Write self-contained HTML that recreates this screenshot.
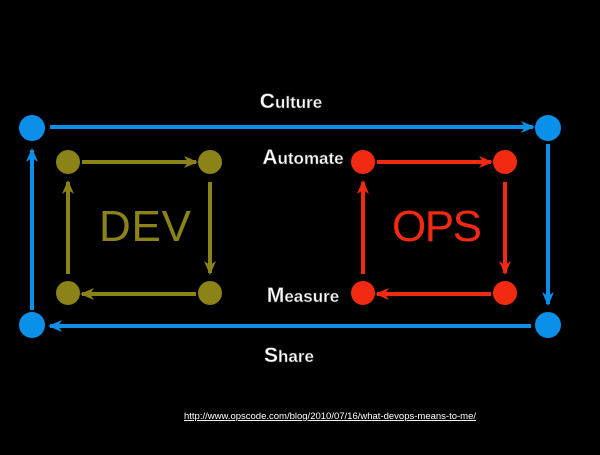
<!DOCTYPE html>
<html><head><style>
body{margin:0;background:#000;width:600px;height:450px;overflow:hidden}
</style></head><body>
<svg width="600" height="450" viewBox="0 0 600 450" xmlns="http://www.w3.org/2000/svg">
<defs>
<marker id="b" markerWidth="14" markerHeight="12" refX="12" refY="6" orient="auto" markerUnits="userSpaceOnUse"><path d="M0,0 L14,6 L0,12 L4,6z" fill="#0a90e8"/></marker>
<marker id="o" markerWidth="14" markerHeight="12" refX="12" refY="6" orient="auto" markerUnits="userSpaceOnUse"><path d="M0,0 L14,6 L0,12 L4,6z" fill="#8b8218"/></marker>
<marker id="r" markerWidth="14" markerHeight="12" refX="12" refY="6" orient="auto" markerUnits="userSpaceOnUse"><path d="M0,0 L14,6 L0,12 L4,6z" fill="#f32a12"/></marker>
</defs>
<g stroke="#0a90e8" stroke-width="4" marker-end="url(#b)">
<line x1="50" y1="127" x2="533" y2="127"/>
<line x1="548" y1="144" x2="548" y2="304"/>
<line x1="531" y1="326" x2="50" y2="326"/>
<line x1="32" y1="310" x2="32" y2="150"/>
</g>
<g fill="#0a90e8"><circle cx="32" cy="128" r="13"/><circle cx="548" cy="128" r="13"/><circle cx="548" cy="325" r="13"/><circle cx="32" cy="325" r="13"/></g>
<g stroke="#8b8218" stroke-width="4" marker-end="url(#o)">
<line x1="82" y1="162" x2="196" y2="162"/>
<line x1="210" y1="182" x2="210" y2="273"/>
<line x1="196" y1="294" x2="82" y2="294"/>
<line x1="68" y1="274" x2="68" y2="182"/>
</g>
<g fill="#8b8218"><circle cx="68" cy="162" r="12"/><circle cx="210" cy="162" r="12"/><circle cx="210" cy="293" r="12"/><circle cx="68" cy="293" r="12"/></g>
<g stroke="#f32a12" stroke-width="4" marker-end="url(#r)">
<line x1="377" y1="162" x2="491" y2="162"/>
<line x1="505" y1="182" x2="505" y2="273"/>
<line x1="491" y1="294" x2="377" y2="294"/>
<line x1="363" y1="274" x2="363" y2="182"/>
</g>
<g fill="#f32a12"><circle cx="363" cy="162" r="12"/><circle cx="505" cy="162" r="12"/><circle cx="505" cy="293" r="12"/><circle cx="363" cy="293" r="12"/></g>
<g font-family="Liberation Sans, sans-serif" fill="#fff" font-weight="bold" text-anchor="middle" stroke="#444" stroke-width="0.5">
<text x="291" y="108" font-size="17"><tspan font-size="21">C</tspan>ulture</text>
<text x="303" y="164" font-size="17"><tspan font-size="21">A</tspan>utomate</text>
<text x="303" y="302" font-size="17"><tspan font-size="21">M</tspan>easure</text>
<text x="289" y="362" font-size="17"><tspan font-size="21">S</tspan>hare</text>
</g>
<text x="145" y="241" font-family="Liberation Sans, sans-serif" font-size="44" fill="#8b8218" text-anchor="middle" textLength="92">DEV</text>
<text x="437" y="241" font-family="Liberation Sans, sans-serif" font-size="44" fill="#f32a12" text-anchor="middle" textLength="90">OPS</text>
<text x="330" y="419" font-family="Liberation Sans, sans-serif" font-size="9.5" fill="#fff" text-anchor="middle" text-decoration="underline">http://www.opscode.com/blog/2010/07/16/what-devops-means-to-me/</text>
</svg>
</body></html>
